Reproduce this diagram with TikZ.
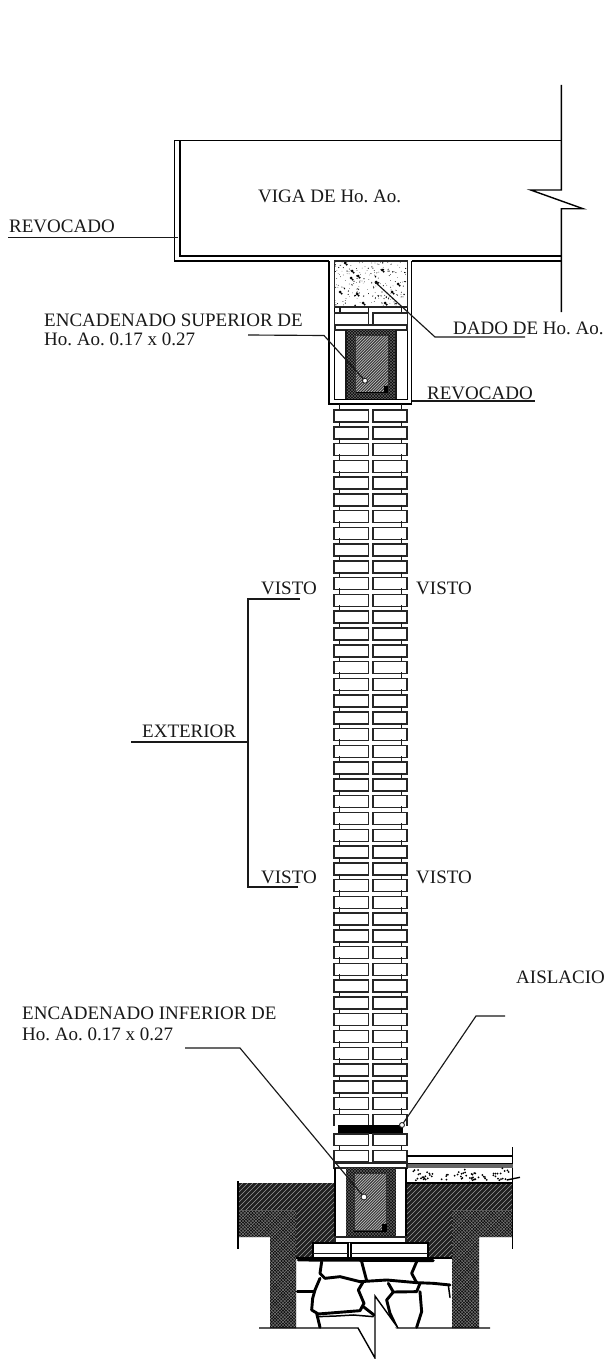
\documentclass[tikz,border=0pt]{standalone}
\usepackage{fontspec}
\setmainfont{Liberation Serif}
\tikzset{
  ln/.style={draw=black,line width=1.4pt,line join=miter},
  thn/.style={draw=black!90,line width=1.15pt},
  brick/.style={draw=black!85,line width=1.5pt,fill=white},
  lbl/.style={anchor=base west,inner sep=0pt,font=\fontsize{19}{19}\selectfont\frenchspacing,text=black!90},
  tip/.style={draw=black!85,fill=white,line width=.9pt},
  stone/.style={draw=black,line width=2.9pt,line join=round,line cap=round},
  stonet/.style={draw=black,line width=1.5pt,line join=round,line cap=round},
}
% x0 y0 x1 y1 step style : "/" lines
\newcommand{\dhatch}[6]{\pgfmathsetmacro\hH{#4-#2}\pgfmathsetmacro\hW{#3-#1+\hH}\foreach \k in {0,#5,...,\hW}{\draw[#6] ({#1-\hH+\k},#4) -- ++(\hH,-\hH);}}
% x0 y0 x1 y1 step style : "\" lines
\newcommand{\bhatch}[6]{\pgfmathsetmacro\hH{#4-#2}\pgfmathsetmacro\hW{#3-#1+\hH}\foreach \k in {0,#5,...,\hW}{\draw[#6] ({#1-\hH+\k},#2) -- ++(\hH,\hH);}}
% column: outer box x0 y0 x1 y1, inner box x0 y0 x1 y1
\newcommand{\colcore}[8]{%
  \fill[black!92] (#1,#2) rectangle (#3,#4);
  \begin{scope}
    \clip (#1,#2) rectangle (#3,#4);
    \dhatch{#1}{#2}{#3}{#4}{3}{white!50!black,line width=.3pt}
    \bhatch{#1}{#2}{#3}{#4}{3}{white!50!black,line width=.3pt}
  \end{scope}
  \fill[black!80,rounded corners=1pt] (#5,#6) rectangle (#7,#8);
  \begin{scope}
    \clip (#5,#6) rectangle (#7,#8);
    \dhatch{#5}{#6}{#7}{#8}{2.8}{white!75!black,line width=.7pt}
  \end{scope}
  \draw[black,line width=1.8pt] (#5,#8) -- (#7,#8);
  \draw[black!80,line width=.6pt] (#5,#6) rectangle (#7,#8);
}
\begin{document}
\begin{tikzpicture}[x=1pt,y=-1pt]
\useasboundingbox (0,0) rectangle (605,1359);
\fill[white] (0,0) rectangle (605,1359);

% ---------- beam
\draw[ln] (561.3,85) -- (561.3,190) -- (530.7,190) -- (583,208.7) -- (561.3,208.7) -- (561.3,312);
\draw[ln] (561.3,140.3) -- (174.3,140.3) -- (174.3,261) -- (329,261);
\draw[ln] (180,140.3) -- (180,256) -- (561.3,256);
\draw[ln] (411.7,261) -- (561.3,261);

% ---------- upper box
\draw[ln] (329,261) -- (329,404) -- (411.7,404) -- (411.7,261);
\draw[ln] (334.3,261) -- (334.3,399.3) -- (407.3,399.3) -- (407.3,261);
% dado
\draw[brick] (334.3,261) rectangle (407.3,307);
\pgfmathsetseed{11}
\begin{scope}
\clip (335,262) rectangle (406.6,306.3);
\foreach \i in {1,...,210}{
  \pgfmathsetmacro\xx{335+71.5*rnd}
  \pgfmathsetmacro\yy{262+44*rnd}
  \pgfmathsetmacro\rr{0.3+0.65*rnd*rnd}
  \fill[black] (\xx,\yy) circle (\rr);
}
\foreach \xx/\yy in {352/271,358/276,351/278,382/270,398/284,376/282,392/292,357/294,340/292,385/303,363/303,345/263}{
  \fill[black] (\xx,\yy) circle (1.5);
  \fill[black] (\xx+1.6,\yy+1.6) circle (1.1);
}
\end{scope}
% bricks over the core
\draw[thn] (340,307) -- (340,313) (368.5,307) -- (368.5,313) (401.6,307) -- (401.6,313);
\draw[brick] (334.3,313) rectangle (368.5,325);
\draw[brick] (373,313) rectangle (407.3,325);
\draw[brick] (335,325) rectangle (407,330);
% core
\colcore{346}{330}{396}{399}{355}{335}{388}{393}
\fill[black] (384,386) rectangle (388,393);
\draw[thn] (346,330) -- (346,399) (396,330) -- (396,399);

% ---------- brick wall
\foreach \k in {0,...,42}{
  \pgfmathsetmacro\yy{410+16.77*\k}
  \draw[thn] (339.5,\yy-6) -- (339.5,\yy) (401.5,\yy-6) -- (401.5,\yy);
  \draw[brick] (334,\yy) rectangle (368.3,\yy+12);
  \draw[brick] (373,\yy) rectangle (407,\yy+12);
}
\fill[white] (331,1126) rectangle (410,1134);
\fill[black] (338,1125) rectangle (403,1134);
\draw[brick] (334,1134) rectangle (368.3,1145.5);
\draw[brick] (373,1134) rectangle (407,1145.5);
\draw[thn] (339.5,1145.5) -- (339.5,1150.7) (401.5,1145.5) -- (401.5,1150.7);
\draw[brick] (334,1150.7) rectangle (368.3,1162);
\draw[brick] (373,1150.7) rectangle (407,1162);

% ---------- ground
\fill[black!88] (238,1183) -- (335,1183) -- (335,1243) -- (313,1243) -- (313,1258) -- (296,1258) -- (296,1210.7) -- (238,1210.7) -- cycle;
\fill[black!88] (406,1183) -- (512.7,1183) -- (512.7,1210.7) -- (452,1210.7) -- (452,1258) -- (428,1258) -- (428,1243) -- (406,1243) -- cycle;
\begin{scope}
  \clip (238,1183) -- (335,1183) -- (335,1243) -- (313,1243) -- (313,1258) -- (296,1258) -- (296,1210.7) -- (238,1210.7) -- cycle
        (406,1183) -- (512.7,1183) -- (512.7,1210.7) -- (452,1210.7) -- (452,1258) -- (428,1258) -- (428,1243) -- (406,1243) -- cycle;
  \dhatch{238}{1183}{513}{1258}{5}{white!60!black,line width=.4pt}
\end{scope}
% mesh footings
\fill[black!93] (238,1210.7) -- (296,1210.7) -- (296,1328) -- (270,1328) -- (270,1237) -- (238,1237) -- cycle;
\fill[black!93] (452,1210.7) -- (512.7,1210.7) -- (512.7,1237) -- (479,1237) -- (479,1328) -- (452,1328) -- cycle;
\begin{scope}
  \clip (238,1210.7) -- (296,1210.7) -- (296,1328) -- (270,1328) -- (270,1237) -- (238,1237) -- cycle
        (452,1210.7) -- (512.7,1210.7) -- (512.7,1237) -- (479,1237) -- (479,1328) -- (452,1328) -- cycle;
  \dhatch{238}{1210}{513}{1328}{3.2}{white!55!black,line width=.3pt}
  \bhatch{238}{1210}{513}{1328}{3.2}{white!55!black,line width=.3pt}
\end{scope}
\draw[ln] (238,1181) -- (238,1249);
\draw[ln] (512.7,1147) -- (512.7,1249);

% floor
\draw[ln] (407,1156) -- (512.7,1156);
\draw[ln] (407,1164) -- (512.7,1164);
\fill[black!60] (407,1164) rectangle (512.7,1168);
\draw[ln] (407,1183) -- (512.7,1183);
\pgfmathsetseed{21}
\foreach \cx/\cy in {417/1172,425/1177,430/1175,446/1177,459/1176,463/1172,470/1178,476/1175,484/1177,495/1175,501/1179,505/1171,420/1179,473/1180}{
  \foreach \i in {1,...,5}{
    \pgfmathsetmacro\xx{\cx+9*(rnd-.5)}
    \pgfmathsetmacro\yy{\cy+6*(rnd-.5)}
    \fill[black] (\xx,\yy) circle (1);
  }
}
\draw[ln] (506.7,1180) -- (520,1177.3);

% lower column
\draw[brick] (334,1163) rectangle (407,1168);
\draw[ln] (335,1168) -- (335,1237);
\draw[ln] (406,1168) -- (406,1237);
\fill[white] (335.7,1168.7) rectangle (405.3,1237);
\colcore{346}{1168}{395.7}{1237}{354}{1173}{386.7}{1230.7}
\fill[black] (382,1224) rectangle (387,1231);
\draw[brick] (335,1237) rectangle (406,1242.5);

% footing
\draw[ln] (313,1243) rectangle (348,1257.5);
\draw[ln] (351,1243) rectangle (428,1257.5);
\draw[thn] (313,1253.5) -- (348,1253.5) (351,1253.5) -- (428,1253.5);
\draw[ln] (296,1258) -- (452,1258);

% ---------- stone masonry
\begin{scope}[shift={(220,1090)},x=.3333pt,y=-.3333pt]
\draw[stone] (235,510) -- (640,512);
\draw[stone] (305,515) -- (300,550) -- (315,565) -- (360,560) -- (420,575) -- (500,570) -- (590,578) -- (640,580) -- (690,585);
\draw[stone] (425,515) -- (440,572);
\draw[stone] (590,515) -- (575,550) -- (590,578);
\draw[stone] (300,565) -- (285,600) -- (278,625) -- (275,660) -- (295,672) -- (420,662) -- (432,640) -- (415,600) -- (430,575);
\draw[stone] (232,605) -- (283,605);
\draw[stone] (505,580) -- (520,606) -- (590,605) -- (600,580);
\draw[stone] (520,606) -- (500,630) -- (510,670) -- (530,712);
\draw[stone] (600,605) -- (605,665) -- (590,712);
\draw[stone] (430,650) -- (462,675);
\draw[stone] (290,670) -- (300,712);
\draw[stonet] (295,680) -- (350,678) -- (400,675) -- (460,680);
\draw[stonet] (685,585) -- (690,622);
\end{scope}
\fill[white] (375.5,1297) -- (397.5,1327.5) -- (375.5,1327.5) -- cycle;
\fill[white] (340,1329) rectangle (420,1359);

% cut lines at the bottom
\coordinate (bl) at (259,1328);
\coordinate (br) at (490,1328);
\draw[ln] (bl) -- (358,1328) -- (375,1358) -- (375,1296) -- (398,1328) -- (br);

% ---------- labels
\node[lbl] (viga) at (258,203) {VIGA DE Ho. Ao.};
\node[lbl] (rev1) at (9,233) {REVOCADO};
\node[lbl] (encs) at (44,326) {ENCADENADO SUPERIOR DE};
\node[lbl] (encs2) at (44,345) {Ho. Ao. 0.17 x 0.27};
\node[lbl] (dado) at (453,334) {DADO DE Ho. Ao.};
\node[lbl] (rev2) at (427,399) {REVOCADO};
\node[lbl] (v1) at (261,594) {VISTO};
\node[lbl] (v2) at (416,594) {VISTO};
\node[lbl] (ext) at (142,737) {EXTERIOR};
\node[lbl] (v3) at (261,883) {VISTO};
\node[lbl] (v4) at (416,883) {VISTO};
\node[lbl] (ais) at (516,983) {AISLACIO};
\node[lbl] (enci) at (22,1019) {ENCADENADO INFERIOR DE};
\node[lbl] (enci2) at (22,1040) {Ho. Ao. 0.17 x 0.27};

% ---------- leaders
\coordinate (revA) at (8,237.7);
\coordinate (revB) at (178,237.7);
\draw[thn] (revA) -- (revB);
\coordinate (esA) at (248,335);
\coordinate (esB) at (324,335.5);
\coordinate (esC) at (365,380.7);
\draw[thn] (esA) -- (esB) -- (esC);
\node[tip,circle,inner sep=0pt,minimum size=5pt] (esT) at (esC) {};
\coordinate (daA) at (375,282);
\coordinate (daB) at (435,337);
\coordinate (daC) at (525,337);
\draw[thn] (daA) -- (daB) -- (daC);
\coordinate (r2A) at (412,401);
\coordinate (r2B) at (535,401);
\draw[thn] (r2A) -- (r2B);
\coordinate (brTop) at (300,599);
\coordinate (brTopL) at (248,599);
\coordinate (brBot) at (298,887);
\coordinate (brBotL) at (248,887);
\draw[thn] (brTop) -- (brTopL) -- (brBotL) -- (brBot);
\coordinate (exA) at (131,742);
\coordinate (exB) at (248,742);
\draw[thn] (exA) -- (exB);
\coordinate (aiA) at (505,1016);
\coordinate (aiB) at (476,1016);
\coordinate (aiC) at (402,1125);
\draw[thn] (aiA) -- (aiB) -- (aiC);
\node[tip,circle,inner sep=0pt,minimum size=5pt] (aiT) at (aiC) {};
\coordinate (eiA) at (185,1048);
\coordinate (eiB) at (240,1048);
\coordinate (eiC) at (364,1197);
\draw[thn] (eiA) -- (eiB) -- (eiC);
\node[tip,circle,inner sep=0pt,minimum size=6pt] (eiT) at (eiC) {};
\end{tikzpicture}
\end{document}
